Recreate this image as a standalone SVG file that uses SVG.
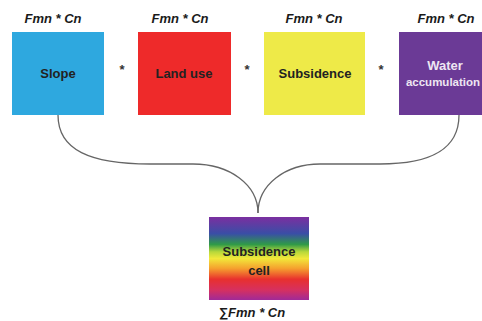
<svg xmlns="http://www.w3.org/2000/svg" width="482" height="321" viewBox="0 0 482 321">
<style>
.lbl{font-family:"Liberation Sans",Arial,sans-serif;font-weight:bold;font-style:italic;font-size:13px;fill:#1a1a1a;text-anchor:middle}
.t{font-family:"Liberation Sans",Arial,sans-serif;font-weight:bold;font-size:13px;fill:#222;text-anchor:middle}
.star{font-family:"Liberation Sans",Arial,sans-serif;font-weight:bold;font-size:13px;fill:#333;text-anchor:middle}
.conn{fill:none;stroke:#666;stroke-width:1.3}
</style>
<defs>
<linearGradient id="rb" x1="0" y1="0" x2="0" y2="1">
<stop offset="0" stop-color="#7b2fa0"/>
<stop offset="0.2" stop-color="#3a4ea6"/>
<stop offset="0.33" stop-color="#2f9a48"/>
<stop offset="0.42" stop-color="#b8d83a"/>
<stop offset="0.5" stop-color="#f2e83a"/>
<stop offset="0.62" stop-color="#f5a02e"/>
<stop offset="0.75" stop-color="#e8302e"/>
<stop offset="0.88" stop-color="#d63060"/>
<stop offset="1" stop-color="#a02a98"/>
</linearGradient>
</defs>
<rect width="482" height="321" fill="#fff"/>
<g id="connectors">
<path class="conn" d="M58,115 C58,150 90,164 150,164 L193,164 C230,164 258,185 258,213"/>
<path class="conn" d="M459,115 C459,150 430,164 380,164 L320,164 C285,164 258,185 258,213"/>
</g>
<g id="slope">
<text class="lbl" x="53" y="23">Fmn * Cn</text>
<rect x="12" y="32" width="92" height="83" fill="#2ea8df"/>
<text class="t" x="58" y="78">Slope</text>
</g>
<g id="landuse">
<text class="lbl" x="180" y="23">Fmn * Cn</text>
<rect x="138" y="32" width="93" height="83" fill="#ee2a2a"/>
<text class="t" x="184" y="78">Land use</text>
</g>
<g id="subsidence">
<text class="lbl" x="314" y="23">Fmn * Cn</text>
<rect x="264" y="32" width="101" height="83" fill="#eeea48"/>
<text class="t" x="315" y="78">Subsidence</text>
</g>
<g id="water">
<text class="lbl" x="446" y="23">Fmn * Cn</text>
<rect x="399" y="32" width="95" height="83" fill="#6b3a96"/>
<text class="t" x="445" y="70" style="fill:#eee6f2">Water</text>
<text class="t" x="443" y="86" style="fill:#eee6f2;font-size:11.5px">accumulation</text>
</g>
<g id="ops">
<text class="star" x="122" y="74">*</text>
<text class="star" x="247" y="74">*</text>
<text class="star" x="381" y="74">*</text>
</g>
<g id="cell">
<rect x="209" y="217" width="100" height="83" fill="url(#rb)"/>
<text class="t" x="259" y="256">Subsidence</text>
<text class="t" x="259" y="275">cell</text>
<text class="lbl" x="252" y="317">∑Fmn * Cn</text>
</g>
</svg>
